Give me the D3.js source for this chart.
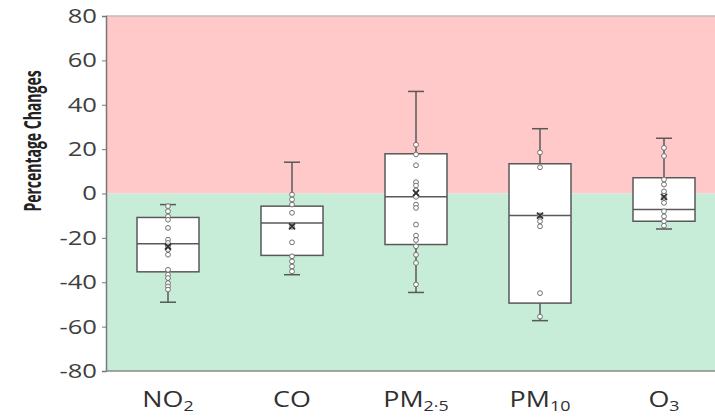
<!DOCTYPE html>
<meta charset="utf-8">
<script src="https://d3js.org/d3.v7.js"></script>
<style>
  body { margin: 0; background: #fff; }
  text { font-family: "Open Sans", sans-serif; }
</style>
<svg id="chart" width="715" height="417"></svg>
<script>

// Categories and their label pieces (main text + subscript)
const categories = ["NO2", "CO", "PM2.5", "PM10", "O3"];
const labelMain = ["NO", "CO", "PM", "PM", "O"];
const labelSub = ["2", "", "2·5", "10", "3"];

// Box statistics
const whiskerLow = [-49, -36.6, -44.6, -57.3, -16];
const q1 = [-35.3, -27.9, -23, -49.4, -12.5];
const median = [-22.6, -13.3, -1.5, -9.9, -7.2];
const q3 = [-10.8, -5.7, 17.9, 13.4, 7.1];
const whiskerHigh = [-5, 14.1, 46, 29.2, 24.9];
const means = [-24, -14.8, 0.3, -10, -1.5];

// Individual observations
const pointsNO2 = [-5.7, -8, -10.3, -11.8, -15.5, -20.8, -22.3, -23.8, -25.3, -27.6, -34.4, -36.6, -38.1, -40.4, -41.9, -43.3];
const pointsCO = [-0.5, -2.7, -5, -8.7, -15, -22, -28.3, -30.6, -32.9, -35.1];
const pointsPM25 = [22, 17.6, 12.7, 5.1, 3.6, 1.4, -1.5, -5, -6.5, -14, -19, -21, -23.8, -27.6, -31.3, -41];
const pointsPM10 = [18.5, 11.8, -9.9, -12.5, -14.8, -44.9, -55.5];
const pointsO3 = [20.6, 16.9, 6.3, 4.1, 1, -1.9, -4.2, -8, -10.3, -12.5, -14.5];
const points = [pointsNO2, pointsCO, pointsPM25, pointsPM10, pointsO3];

const yTicks = [-80, -60, -40, -20, 0, 20, 40, 60, 80];

const svg = d3.select("#chart");

const plotLeft = 106, plotTop = 16, plotBottom = 371, plotRight = 726;
const stretch = 1.28; // the text in the picture is drawn wider than tall

const x = d3.scaleBand()
    .domain(categories)
    .range([plotLeft, plotRight])
    .paddingInner(0.5)
    .paddingOuter(0.25);

const y = d3.scaleLinear()
    .domain([-80, 80])
    .range([plotBottom, plotTop]);

// background zones
svg.append("rect")
    .attr("x", plotLeft).attr("y", y(80))
    .attr("width", plotRight - plotLeft).attr("height", y(0) - y(80))
    .attr("fill", "#ffc9c9");
svg.append("rect")
    .attr("x", plotLeft).attr("y", y(0))
    .attr("width", plotRight - plotLeft).attr("height", y(-80) - y(0))
    .attr("fill", "#c7ecd7");

// top border
svg.append("line")
    .attr("x1", plotLeft).attr("x2", plotRight)
    .attr("y1", y(80)).attr("y2", y(80))
    .attr("stroke", "#bdbdbd").attr("stroke-width", 1.5);

// y axis
const yAxis = svg.append("g")
    .attr("transform", `translate(${plotLeft},0)`)
    .call(d3.axisLeft(y).tickValues(yTicks).tickSize(4).tickFormat(d => String(d)));
yAxis.select(".domain").attr("stroke", "#777").attr("stroke-width", 1.5);
yAxis.selectAll(".tick line").attr("stroke", "#777");
yAxis.selectAll(".tick text")
    .attr("x", 0)
    .attr("transform", `translate(-9,0) scale(${stretch},1)`)
    .attr("font-size", 20)
    .attr("fill", "#404040")
    .attr("font-family", "Open Sans, sans-serif");

// x axis line
svg.append("line")
    .attr("x1", plotLeft).attr("x2", plotRight)
    .attr("y1", plotBottom).attr("y2", plotBottom)
    .attr("stroke", "#8a8a8a").attr("stroke-width", 1.5);

// y title
svg.append("text")
    .attr("transform", `translate(41,141) scale(1.65,1) rotate(-90)`)
    .attr("text-anchor", "middle")
    .attr("font-size", 14)
    .attr("font-weight", "bold")
    .attr("fill", "#222")
    .text("Percentage Changes");

// x labels with subscripts
const xl = svg.append("g").selectAll("text")
    .data(categories)
    .join("text")
      .attr("transform", d => `translate(${x(d) + x.bandwidth() / 2},407) scale(${stretch},1)`)
      .attr("text-anchor", "middle")
      .attr("font-size", 21)
      .attr("fill", "#303030");
xl.append("tspan").text((d, i) => labelMain[i]);
xl.append("tspan")
    .attr("font-size", 14)
    .attr("dy", 4)
    .text((d, i) => labelSub[i]);

// boxes
const boxes = svg.append("g").selectAll("g")
    .data(categories)
    .join("g");

const cx = d => x(d) + x.bandwidth() / 2;
const capW = 16;

// whiskers
boxes.append("line")
    .attr("x1", cx).attr("x2", cx)
    .attr("y1", (d, i) => y(whiskerHigh[i]))
    .attr("y2", (d, i) => y(q3[i]))
    .attr("stroke", "#595959").attr("stroke-width", 1.5);
boxes.append("line")
    .attr("x1", cx).attr("x2", cx)
    .attr("y1", (d, i) => y(q1[i]))
    .attr("y2", (d, i) => y(whiskerLow[i]))
    .attr("stroke", "#595959").attr("stroke-width", 1.5);
boxes.append("line")
    .attr("x1", d => cx(d) - capW / 2).attr("x2", d => cx(d) + capW / 2)
    .attr("y1", (d, i) => y(whiskerHigh[i])).attr("y2", (d, i) => y(whiskerHigh[i]))
    .attr("stroke", "#595959").attr("stroke-width", 1.5);
boxes.append("line")
    .attr("x1", d => cx(d) - capW / 2).attr("x2", d => cx(d) + capW / 2)
    .attr("y1", (d, i) => y(whiskerLow[i])).attr("y2", (d, i) => y(whiskerLow[i]))
    .attr("stroke", "#595959").attr("stroke-width", 1.5);

// box body
boxes.append("rect")
    .attr("x", d => x(d))
    .attr("width", x.bandwidth())
    .attr("y", (d, i) => y(q3[i]))
    .attr("height", (d, i) => y(q1[i]) - y(q3[i]))
    .attr("fill", "#fff")
    .attr("stroke", "#595959").attr("stroke-width", 1.5);

// median
boxes.append("line")
    .attr("x1", d => x(d)).attr("x2", d => x(d) + x.bandwidth())
    .attr("y1", (d, i) => y(median[i])).attr("y2", (d, i) => y(median[i]))
    .attr("stroke", "#595959").attr("stroke-width", 1.5);

// points
boxes.each(function(d, i) {
  d3.select(this).selectAll("circle")
    .data(points[i])
    .join("circle")
      .attr("cx", cx(d))
      .attr("cy", v => y(v))
      .attr("r", 2.4)
      .attr("fill", "#fff")
      .attr("stroke", "#707070")
      .attr("stroke-width", 1);
});

// mean markers
const m = 3;
boxes.append("path")
    .attr("d", (d, i) => {
      const px = cx(d), py = y(means[i]);
      return `M${px - m},${py - m}L${px + m},${py + m}M${px - m},${py + m}L${px + m},${py - m}`;
    })
    .attr("stroke", "#333").attr("stroke-width", 1.8);

</script>
